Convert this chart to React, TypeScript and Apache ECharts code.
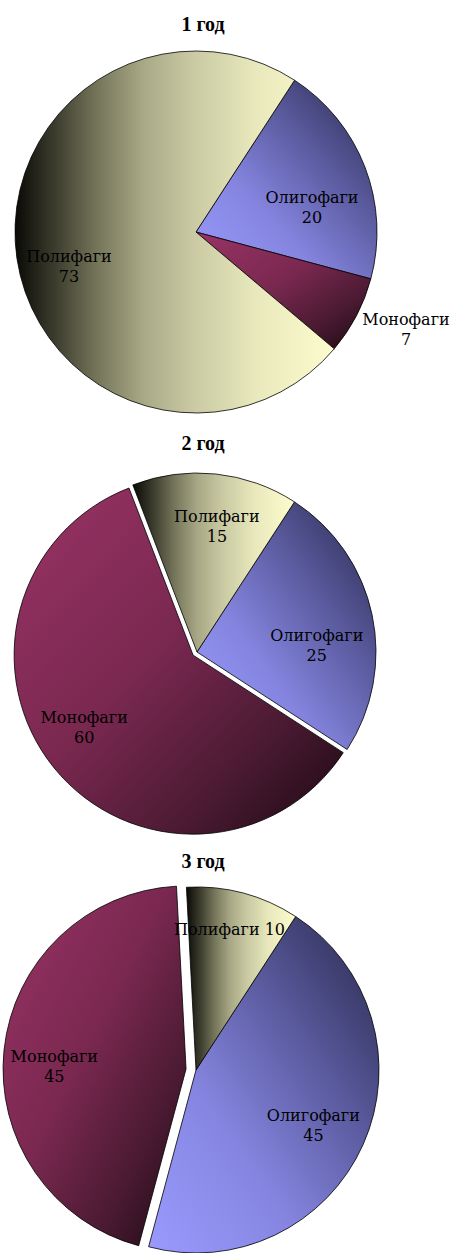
import React, { useEffect, useRef } from "react";
import * as echarts from "echarts";

// ---------- data ----------
const categories = ["Олигофаги", "Монофаги", "Полифаги"];
const yearTitles = ["1 год", "2 год", "3 год"];
const year1Values = [20, 7, 73];
const year2Values = [25, 60, 15];
const year3Values = [45, 45, 10];
const yearValues = [year1Values, year2Values, year3Values];

// ---------- layout / style ----------
const W = 456;
const H = 1253;
const PIES = [
  { cx: 196, cy: 232, r: 181, start: 57, offset: 0, explode: [false, false, false], titleY: 24,
    labelK: [0.655, 1.28, 0.728], labelTurn: [9, -2.6, -7], inline: [false, false, false] },
  { cx: 197, cy: 652, r: 179, start: 57, offset: 5, explode: [false, true, false], titleY: 443,
    labelK: [0.67, 0.73, 0.71], labelTurn: [9, 5.5, 3], inline: [false, false, false] },
  { cx: 196, cy: 1070, r: 183, start: 57, offset: 10, explode: [false, true, false], titleY: 861,
    labelK: [0.71, 0.72, 0.79], labelTurn: [1.4, -5, -1.6], inline: [false, false, true] },
];

const oliFill = {
  type: "linear", x: 0, y: 1, x2: 1, y2: 0,
  colorStops: [
    { offset: 0, color: "#9a9aff" },
    { offset: 0.35, color: "#8585e0" },
    { offset: 0.65, color: "#5a5a9e" },
    { offset: 1, color: "#262648" },
  ],
};
const monoFill = {
  type: "linear", x: 0, y: 0, x2: 1, y2: 1,
  colorStops: [
    { offset: 0, color: "#993366" },
    { offset: 0.45, color: "#7a2850" },
    { offset: 0.75, color: "#4a1a32" },
    { offset: 1, color: "#1a0810" },
  ],
};
const poliFill = {
  type: "linear", x: 0, y: 0, x2: 1, y2: 0,
  colorStops: [
    { offset: 0, color: "#0a0a06" },
    { offset: 0.12, color: "#3a3a2c" },
    { offset: 0.25, color: "#727258" },
    { offset: 0.4, color: "#a8a886" },
    { offset: 0.55, color: "#c8c8a2" },
    { offset: 0.75, color: "#e8e8bc" },
    { offset: 1, color: "#fcfcce" },
  ],
};
const fills = [oliFill, monoFill, poliFill];

const LABEL_FONT = "DejaVu Serif";
const TITLE_FONT = "Liberation Serif";
const HIDDEN = "rgba(0,0,0,0)";

function midAngle(pieIdx: number, dataIdx: number) {
  const vals = yearValues[pieIdx];
  const total = vals.reduce((a, b) => a + b, 0);
  let acc = 90 - PIES[pieIdx].start;
  for (let i = 0; i < dataIdx; i++) acc += (vals[i] / total) * 360;
  return acc + (vals[dataIdx] / total) * 180;
}

function buildSeries() {
  const out: any[] = [];
  yearValues.forEach((vals, pi) => {
    const cfg = PIES[pi];
    // groups: base (non-exploded) + one per exploded slice
    const groups: { center: [number, number]; show: boolean[] }[] = [];
    groups.push({ center: [cfg.cx, cfg.cy], show: vals.map((_, di) => !cfg.explode[di]) });
    vals.forEach((_, di) => {
      if (!cfg.explode[di]) return;
      const m = (midAngle(pi, di) * Math.PI) / 180;
      groups.push({
        center: [cfg.cx + cfg.offset * Math.sin(m), cfg.cy - cfg.offset * Math.cos(m)],
        show: vals.map((__, k) => k === di),
      });
    });
    groups.forEach((g) => {
      out.push({
        type: "pie",
        center: g.center,
        radius: cfg.r,
        startAngle: cfg.start,
        clockwise: true,
        avoidLabelOverlap: false,
        silent: true,
        emphasis: { disabled: true },
        labelLine: { show: false },
        label: {
          show: true,
          position: "inside",
          color: "#000",
          fontFamily: LABEL_FONT,
          fontSize: 16,
          lineHeight: 20,
          formatter: "{b}\n{c}",
        },
        labelLayout: (p: any) => {
          const idx = p.dataIndex;
          const a = ((midAngle(pi, idx) + cfg.labelTurn[idx]) * Math.PI) / 180;
          const d = cfg.labelK[idx] * cfg.r;
          return {
            x: g.center[0] + d * Math.sin(a),
            y: g.center[1] - d * Math.cos(a),
            align: "center",
            verticalAlign: "middle",
          };
        },
        data: vals.map((v, di) => ({
          name: categories[di],
          value: v,
          itemStyle: g.show[di]
            ? { color: fills[di], borderColor: "#000", borderWidth: 0.8 }
            : { color: HIDDEN, borderWidth: 0 },
          label: g.show[di]
            ? cfg.inline[di]
              ? { formatter: "{b} {c}" }
              : undefined
            : { show: false },
        })),
      });
    });
  });
  return out;
}

export default function App() {
  const ref = useRef<HTMLDivElement>(null);

  useEffect(() => {
    if (!ref.current) return;
    const chart = echarts.init(ref.current, undefined, { renderer: "svg" });

    chart.setOption({
      animation: false,
      backgroundColor: "#fff",
      graphic: PIES.map((cfg, i) => ({
        type: "text",
        x: 203,
        y: cfg.titleY,
        style: {
          text: yearTitles[i],
          fontFamily: TITLE_FONT,
          fontWeight: "bold",
          fontSize: 20,
          fill: "#000",
          align: "center",
          verticalAlign: "middle",
        },
      })),
      series: buildSeries(),
    } as any);

    return () => chart.dispose();
  }, []);

  return (
    <div
      ref={ref}
      style={{ position: "absolute", left: 0, top: 0, width: W, height: H }}
    />
  );
}
